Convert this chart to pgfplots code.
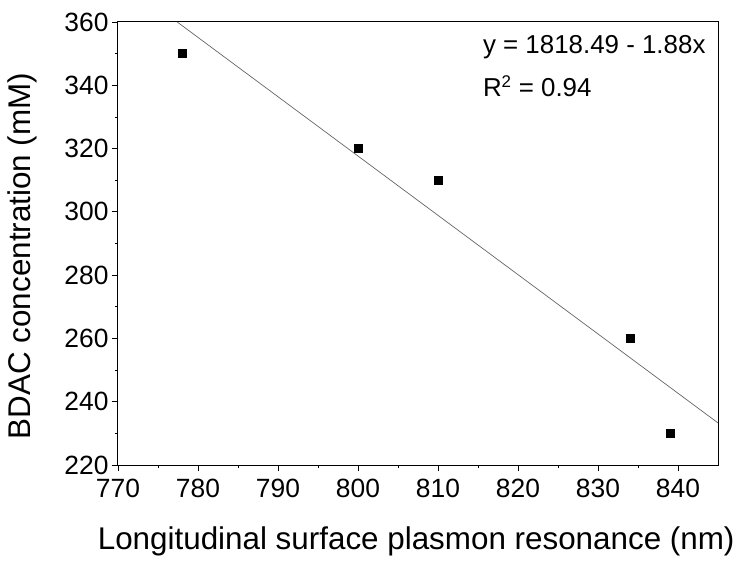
\documentclass[border=0pt]{standalone}
\usepackage{pgfplots}
\pgfplotsset{compat=1.18}
\usepackage{fontspec}
\setmainfont{Liberation Sans}

\begin{document}
\begin{tikzpicture}
\useasboundingbox (-118bp,-99bp) rectangle (622bp,465bp);
\begin{axis}[
scale only axis,
width=600bp, height=443bp,
xmin=770, xmax=845,
ymin=220, ymax=360,
xtick={770,780,...,840},
ytick={220,240,...,360},
minor x tick num=1,
minor y tick num=1,
tick pos=left,
tick align=outside,
major tick length=6bp,
minor tick length=3bp,
axis line style={line width=1bp},
every tick/.style={black, line width=0.8bp},
/pgf/number format/assume math mode=true,
ticklabel style={font=\fontsize{26.5}{30}\selectfont},
xticklabel style={yshift=-5bp},
xlabel={Longitudinal surface plasmon resonance (nm)},
ylabel={BDAC concentration (mM)},
xlabel style={font=\fontsize{31.5}{35}\selectfont, at={(axis description cs:0.497,-0.1716)}, anchor=center},
ylabel style={font=\fontsize{31.5}{35}\selectfont, at={(axis description cs:-0.159,0.472)}, anchor=center, rotate=0},
clip=true,
]
% fitted line
\addplot[color=black!60, line width=0.7bp] coordinates {(777.4,360) (845,233.3)};
\addplot[only marks, mark=square*, mark size=4bp, color=black] coordinates {
(778,350) (800,320) (810,310) (834,260) (839,230)};
\node[anchor=west, font=\fontsize{26}{30}\selectfont, inner sep=0pt] at (axis description cs:0.608,0.9436) {y = 1818.49 - 1.88x};
\node[anchor=west, font=\fontsize{26}{30}\selectfont, inner sep=0pt] at (axis description cs:0.608,0.855) {R\textsuperscript{\fontsize{17}{20}\selectfont 2} = 0.94};
\end{axis}
\end{tikzpicture}
\end{document}
